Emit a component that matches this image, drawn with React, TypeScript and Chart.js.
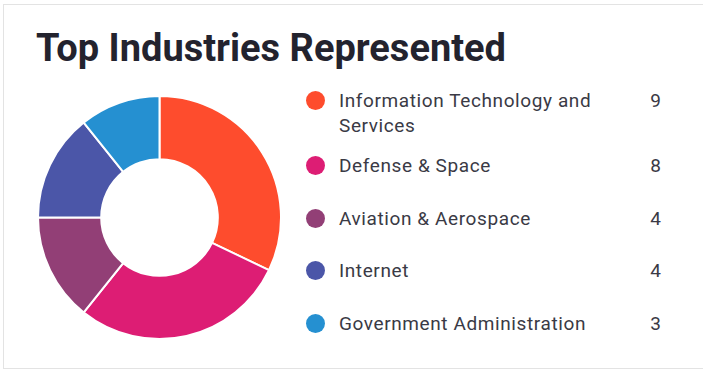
import React, { useEffect, useRef } from "react";
import { Chart, registerables } from "chart.js";

Chart.register(...registerables);

const title = "Top Industries Represented";
const industries = [
  "Information Technology and Services",
  "Defense & Space",
  "Aviation & Aerospace",
  "Internet",
  "Government Administration",
];
const counts = [9, 8, 4, 4, 3];
const colors = ["#fe4c2d", "#dd1d74", "#923f76", "#4b56a8", "#2590d1"];

const FONT = "Roboto, 'Noto Sans', sans-serif";

export default function App() {
  const ref = useRef<HTMLCanvasElement | null>(null);

  useEffect(() => {
    if (!ref.current) return;
    const chart = new Chart(ref.current, {
      type: "doughnut",
      data: {
        labels: industries,
        datasets: [
          {
            data: counts,
            backgroundColor: colors,
            borderColor: "#ffffff",
            borderWidth: 2,
            hoverOffset: 0,
          },
        ],
      },
      options: {
        animation: false,
        responsive: false,
        maintainAspectRatio: false,
        cutout: "48%",
        layout: { padding: 0 },
        plugins: {
          legend: { display: false },
          tooltip: { enabled: false },
          title: { display: false },
        },
      },
    });
    return () => chart.destroy();
  }, []);

  return (
    <div
      style={{
        position: "absolute",
        left: 3,
        top: 4,
        width: 720,
        height: 365,
        border: "1.5px solid #e3e3e3",
        boxSizing: "border-box",
        background: "#fff",
        fontFamily: FONT,
      }}
    >
      <div
        style={{
          position: "absolute",
          left: 32,
          top: 19,
          fontSize: 38,
          fontWeight: 700,
          color: "#23232e",
          whiteSpace: "nowrap",
          lineHeight: "48px",
        }}
      >
        {title}
      </div>
      <canvas
        ref={ref}
        width={245}
        height={245}
        style={{ position: "absolute", left: 33, top: 90, width: 245, height: 245 }}
      />
      <div style={{ position: "absolute", left: 302, top: 82, width: 355 }}>
        {industries.map((name, i) => (
          <div
            key={name}
            style={{ height: 52.5, display: "flex", alignItems: "center" }}
          >
            <div style={{ display: "flex", alignItems: "flex-start", width: "100%" }}>
              <div
                style={{
                  width: 19,
                  height: 19,
                  borderRadius: "50%",
                  background: colors[i],
                  marginTop: 3,
                  flex: "0 0 auto",
                }}
              />
              <div
                style={{
                  marginLeft: 14,
                  width: 270,
                  fontSize: 19,
                  lineHeight: "25px",
                  color: "#3a3a45",
                  letterSpacing: 0.6,
                }}
              >
                {name}
              </div>
              <div
                style={{
                  flex: 1,
                  textAlign: "right",
                  fontSize: 19,
                  lineHeight: "25px",
                  color: "#3a3a45",
                }}
              >
                {counts[i]}
              </div>
            </div>
          </div>
        ))}
      </div>
    </div>
  );
}
